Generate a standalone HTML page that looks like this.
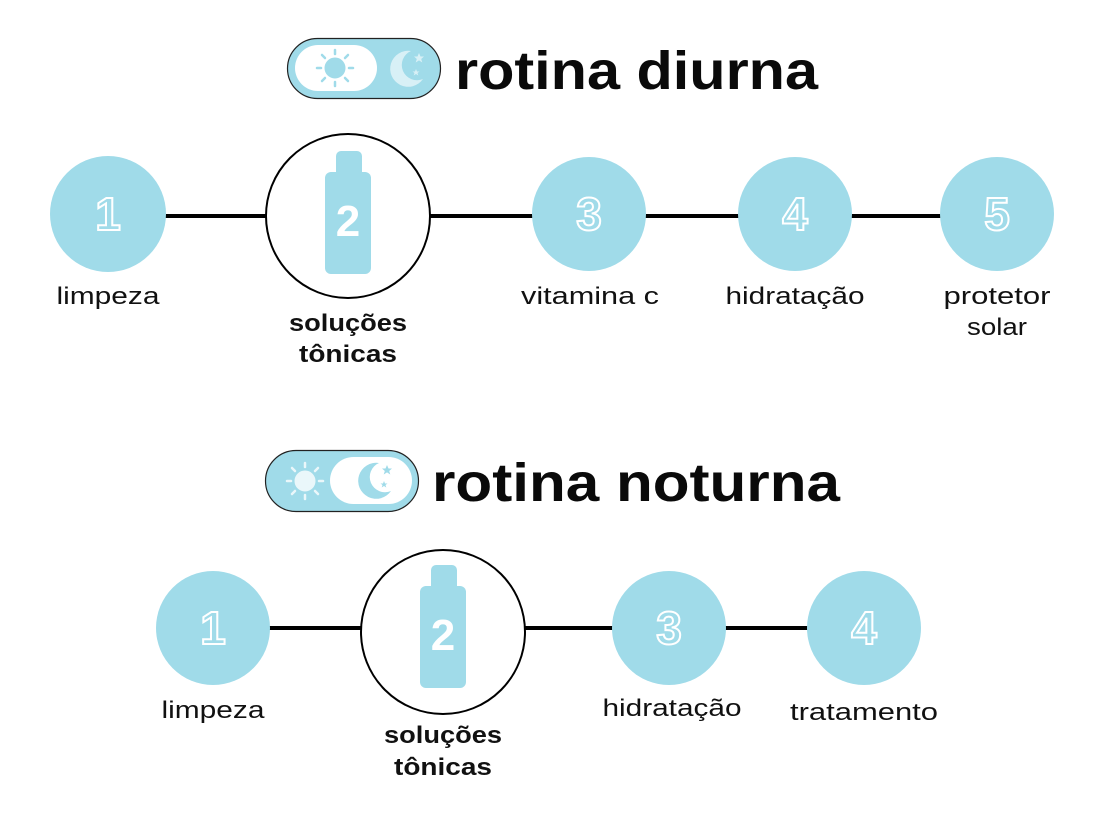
<!DOCTYPE html>
<html><head><meta charset="utf-8"><style>
html,body{margin:0;padding:0;background:#fff;}
svg{display:block}
text{font-family:"Liberation Sans",sans-serif;}
.lb{font-size:24px;fill:#111;text-anchor:middle}
.lbb{font-size:24px;fill:#111;text-anchor:middle;font-weight:bold}
.num{font-size:46px;font-weight:bold;fill:none;stroke:#fff;stroke-width:2;text-anchor:middle}
.t{font-size:54px;font-weight:bold;fill:#0a0a0a}
</style></head><body>
<svg width="1106" height="814" viewBox="0 0 1106 814" xmlns="http://www.w3.org/2000/svg">
<defs>
<g id="sun">
<circle r="10"/>
<g stroke-width="2.5" stroke-linecap="round">
<line x1="0" y1="-14" x2="0" y2="-18"/><line x1="0" y1="14" x2="0" y2="18"/>
<line x1="-14" y1="0" x2="-18" y2="0"/><line x1="14" y1="0" x2="18" y2="0"/>
<line x1="10" y1="10" x2="13" y2="13"/><line x1="-10" y1="10" x2="-13" y2="13"/>
<line x1="10" y1="-10" x2="13" y2="-13"/><line x1="-10" y1="-10" x2="-13" y2="-13"/>
</g></g>
<g id="moon">
<path d="M4,-18 A18,18 0 1 0 16,10 A14,14 0 1 1 4,-18 Z"/>
<polygon points="12,-16 13.5,-12.5 17,-12.5 14.2,-10 15.3,-6.5 12,-8.6 8.7,-6.5 9.8,-10 7,-12.5 10.5,-12.5"/>
<polygon points="9,0 10,2.5 12.5,2.5 10.5,4 11.3,6.5 9,5 6.7,6.5 7.5,4 5.5,2.5 8,2.5"/>
</g>
<g id="bottle">
<rect x="11" y="0" width="26" height="30" rx="5" fill="#a0dbe9"/>
<rect x="0" y="21" width="46" height="102" rx="6" fill="#a0dbe9"/>
</g>
</defs>

<!-- TOP -->
<rect x="287.5" y="38.5" width="153" height="60" rx="30" fill="#a0dbe9" stroke="#222" stroke-width="1.2"/>
<rect x="295" y="45" width="82" height="46" rx="23" fill="#fff"/>
<g transform="translate(335,68)" fill="#a0dbe9" stroke="#a0dbe9"><use href="#sun"/></g>
<g transform="translate(407,69)" fill="#d8f0f6" stroke="none"><use href="#moon"/></g>
<text class="t" x="455" y="89" textLength="363" lengthAdjust="spacingAndGlyphs">rotina diurna</text>

<line x1="108" y1="216" x2="997" y2="216" stroke="#000" stroke-width="4"/>
<circle cx="108" cy="214" r="58" fill="#a0dbe9"/>
<circle cx="348" cy="216" r="82" fill="#fff" stroke="#000" stroke-width="2"/>
<circle cx="589" cy="214" r="57" fill="#a0dbe9"/>
<circle cx="795" cy="214" r="57" fill="#a0dbe9"/>
<circle cx="997" cy="214" r="57" fill="#a0dbe9"/>
<use href="#bottle" x="325" y="151"/>
<text x="348" y="236" font-size="44" font-weight="bold" fill="#fff" text-anchor="middle">2</text>
<text class="num" x="108" y="230">1</text>
<text class="num" x="589" y="230">3</text>
<text class="num" x="795" y="230">4</text>
<text class="num" x="997" y="230">5</text>
<text class="lb" x="108" y="304" textLength="103" lengthAdjust="spacingAndGlyphs">limpeza</text>
<text class="lbb" x="348" y="331" textLength="118" lengthAdjust="spacingAndGlyphs">soluções</text>
<text class="lbb" x="348" y="362" textLength="98" lengthAdjust="spacingAndGlyphs">tônicas</text>
<text class="lb" x="590" y="304" textLength="138" lengthAdjust="spacingAndGlyphs">vitamina c</text>
<text class="lb" x="795" y="304" textLength="139" lengthAdjust="spacingAndGlyphs">hidratação</text>
<text class="lb" x="997" y="304" textLength="107" lengthAdjust="spacingAndGlyphs">protetor</text>
<text class="lb" x="997" y="335" textLength="60" lengthAdjust="spacingAndGlyphs">solar</text>

<!-- BOTTOM -->
<rect x="265.5" y="450.5" width="153" height="61" rx="30.5" fill="#a0dbe9" stroke="#222" stroke-width="1.2"/>
<rect x="330" y="457" width="82" height="47" rx="23.5" fill="#fff"/>
<g transform="translate(305,481)" fill="#eaf7fa" stroke="#eaf7fa"><use href="#sun"/></g>
<g transform="translate(375,481)" fill="#a0dbe9" stroke="none"><use href="#moon"/></g>
<text class="t" x="432" y="501" textLength="408" lengthAdjust="spacingAndGlyphs">rotina noturna</text>

<line x1="213" y1="628" x2="864" y2="628" stroke="#000" stroke-width="4"/>
<circle cx="213" cy="628" r="57" fill="#a0dbe9"/>
<circle cx="443" cy="632" r="82" fill="#fff" stroke="#000" stroke-width="2"/>
<circle cx="669" cy="628" r="57" fill="#a0dbe9"/>
<circle cx="864" cy="628" r="57" fill="#a0dbe9"/>
<use href="#bottle" x="420" y="565"/>
<text x="443" y="650" font-size="44" font-weight="bold" fill="#fff" text-anchor="middle">2</text>
<text class="num" x="213" y="644">1</text>
<text class="num" x="669" y="644">3</text>
<text class="num" x="864" y="644">4</text>
<text class="lb" x="213" y="718" textLength="103" lengthAdjust="spacingAndGlyphs">limpeza</text>
<text class="lbb" x="443" y="743" textLength="118" lengthAdjust="spacingAndGlyphs">soluções</text>
<text class="lbb" x="443" y="775" textLength="98" lengthAdjust="spacingAndGlyphs">tônicas</text>
<text class="lb" x="672" y="716" textLength="139" lengthAdjust="spacingAndGlyphs">hidratação</text>
<text class="lb" x="864" y="720" textLength="148" lengthAdjust="spacingAndGlyphs">tratamento</text>
</svg>
</body></html>
